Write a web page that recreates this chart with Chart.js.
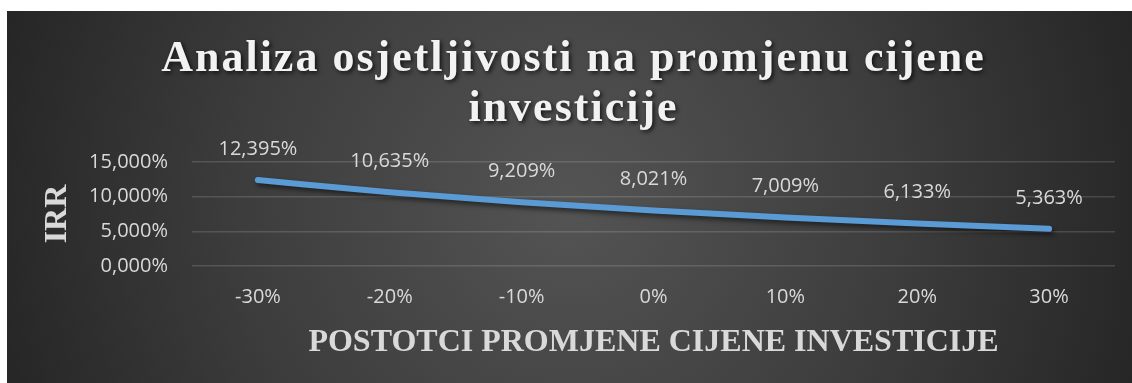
<!DOCTYPE html>
<html>
<head>
<meta charset="utf-8">
<script src="https://cdn.jsdelivr.net/npm/chart.js@4.4.1/dist/chart.umd.min.js"></script>
<style>
  html, body { margin: 0; padding: 0; background: #fff; }
  body { width: 1132px; height: 383px; position: relative; overflow: hidden; }
  .panel {
    position: absolute; left: 7px; top: 11px; width: 1125px; height: 372px;
    background: radial-gradient(circle 590px at 50% 52%, #545454 0%, #3d3d3d 55%, #262626 100%);
  }
</style>
</head>
<body>
<div class="panel"><canvas id="irrChart" width="1125" height="372"></canvas></div>
<script>
// IRR sensitivity to a change in investment cost
const titleLines = ["Analiza osjetljivosti na promjenu cijene", "investicije"];
const changes = ["-30%", "-20%", "-10%", "0%", "10%", "20%", "30%"];
const irrValues = [12.395, 10.635, 9.209, 8.021, 7.009, 6.133, 5.363];
const yTicks = [0, 5, 10, 15];

const pct = (v) => v.toFixed(3).replace(".", ",") + "%";
const labelColor = "#d9d9d9";
const sansFont = "'Open Sans', 'Noto Sans', sans-serif";
const serifFont = "'Liberation Serif', 'DejaVu Serif', serif";

// Soft shadow under the line
const lineShadow = {
  id: "lineShadow",
  beforeDatasetDraw(chart) {
    const ctx = chart.ctx;
    ctx.save();
    ctx.shadowColor = "rgba(0,0,0,0.55)";
    ctx.shadowBlur = 5;
    ctx.shadowOffsetX = 2;
    ctx.shadowOffsetY = 3;
  },
  afterDatasetDraw(chart) {
    chart.ctx.restore();
  },
};

// Value labels above each point
const valueLabels = {
  id: "valueLabels",
  afterDatasetsDraw(chart) {
    const ctx = chart.ctx;
    const meta = chart.getDatasetMeta(0);
    ctx.save();
    ctx.font = "20px " + sansFont;
    ctx.fillStyle = labelColor;
    ctx.textAlign = "center";
    ctx.textBaseline = "alphabetic";
    meta.data.forEach((pt, i) => {
      ctx.fillText(pct(irrValues[i]), pt.x, pt.y - 25);
    });
    ctx.restore();
  },
};

// Spaced-out two line heading with a drop shadow
const heading = {
  id: "heading",
  afterDraw(chart) {
    const ctx = chart.ctx;
    const cx = chart.width / 2 + 4;
    ctx.save();
    ctx.font = "bold 44px " + serifFont;
    ctx.letterSpacing = "2px";
    ctx.fillStyle = "#f2f2f2";
    ctx.textAlign = "center";
    ctx.shadowColor = "rgba(0,0,0,0.7)";
    ctx.shadowBlur = 4;
    ctx.shadowOffsetX = 2;
    ctx.shadowOffsetY = 2;
    ctx.fillText(titleLines[0], cx, 60);
    ctx.fillText(titleLines[1], cx, 110);
    ctx.restore();
  },
};

new Chart(document.getElementById("irrChart"), {
  type: "line",
  data: {
    labels: changes,
    datasets: [
      {
        label: "IRR",
        data: irrValues,
        borderColor: "#5b9bd5",
        borderWidth: 6,
        borderCapStyle: "round",
        cubicInterpolationMode: "monotone",
        pointRadius: 0,
        fill: false,
      },
    ],
  },
  options: {
    responsive: false,
    animation: false,
    layout: { padding: { top: 151, left: 20, right: 17, bottom: 21 } },
    plugins: {
      legend: { display: false },
      tooltip: { enabled: false },
      title: { display: false },
    },
    scales: {
      x: {
        offset: true,
        // fixed axis height (ticks + title) below the plot
        afterFit: (scale) => {
          scale.height = 96;
        },
        grid: { display: false },
        border: { display: false },
        ticks: {
          color: labelColor,
          padding: 11,
          font: { family: sansFont, size: 20 },
        },
        title: {
          display: true,
          text: "POSTOTCI PROMJENE CIJENE INVESTICIJE",
          color: labelColor,
          font: { family: serifFont, size: 32, weight: "bold" },
          padding: { top: 0, bottom: 0 },
        },
      },
      y: {
        min: yTicks[0],
        max: yTicks[yTicks.length - 1],
        afterBuildTicks: (scale) => {
          scale.ticks = yTicks.map((v) => ({ value: v }));
        },
        // fixed axis width so the plot starts at the same spot
        afterFit: (scale) => {
          scale.width = 165;
        },
        grid: { color: "rgba(255,255,255,0.14)", lineWidth: 1.5, drawTicks: false },
        border: { display: false },
        ticks: {
          color: labelColor,
          padding: 24,
          font: { family: sansFont, size: 20 },
          callback: (v) => pct(v),
        },
        title: {
          display: true,
          text: "IRR",
          color: labelColor,
          font: { family: serifFont, size: 32, weight: "bold" },
          padding: { top: 12, bottom: 0 },
        },
      },
    },
  },
  plugins: [lineShadow, valueLabels, heading],
});
</script>
</body>
</html>
